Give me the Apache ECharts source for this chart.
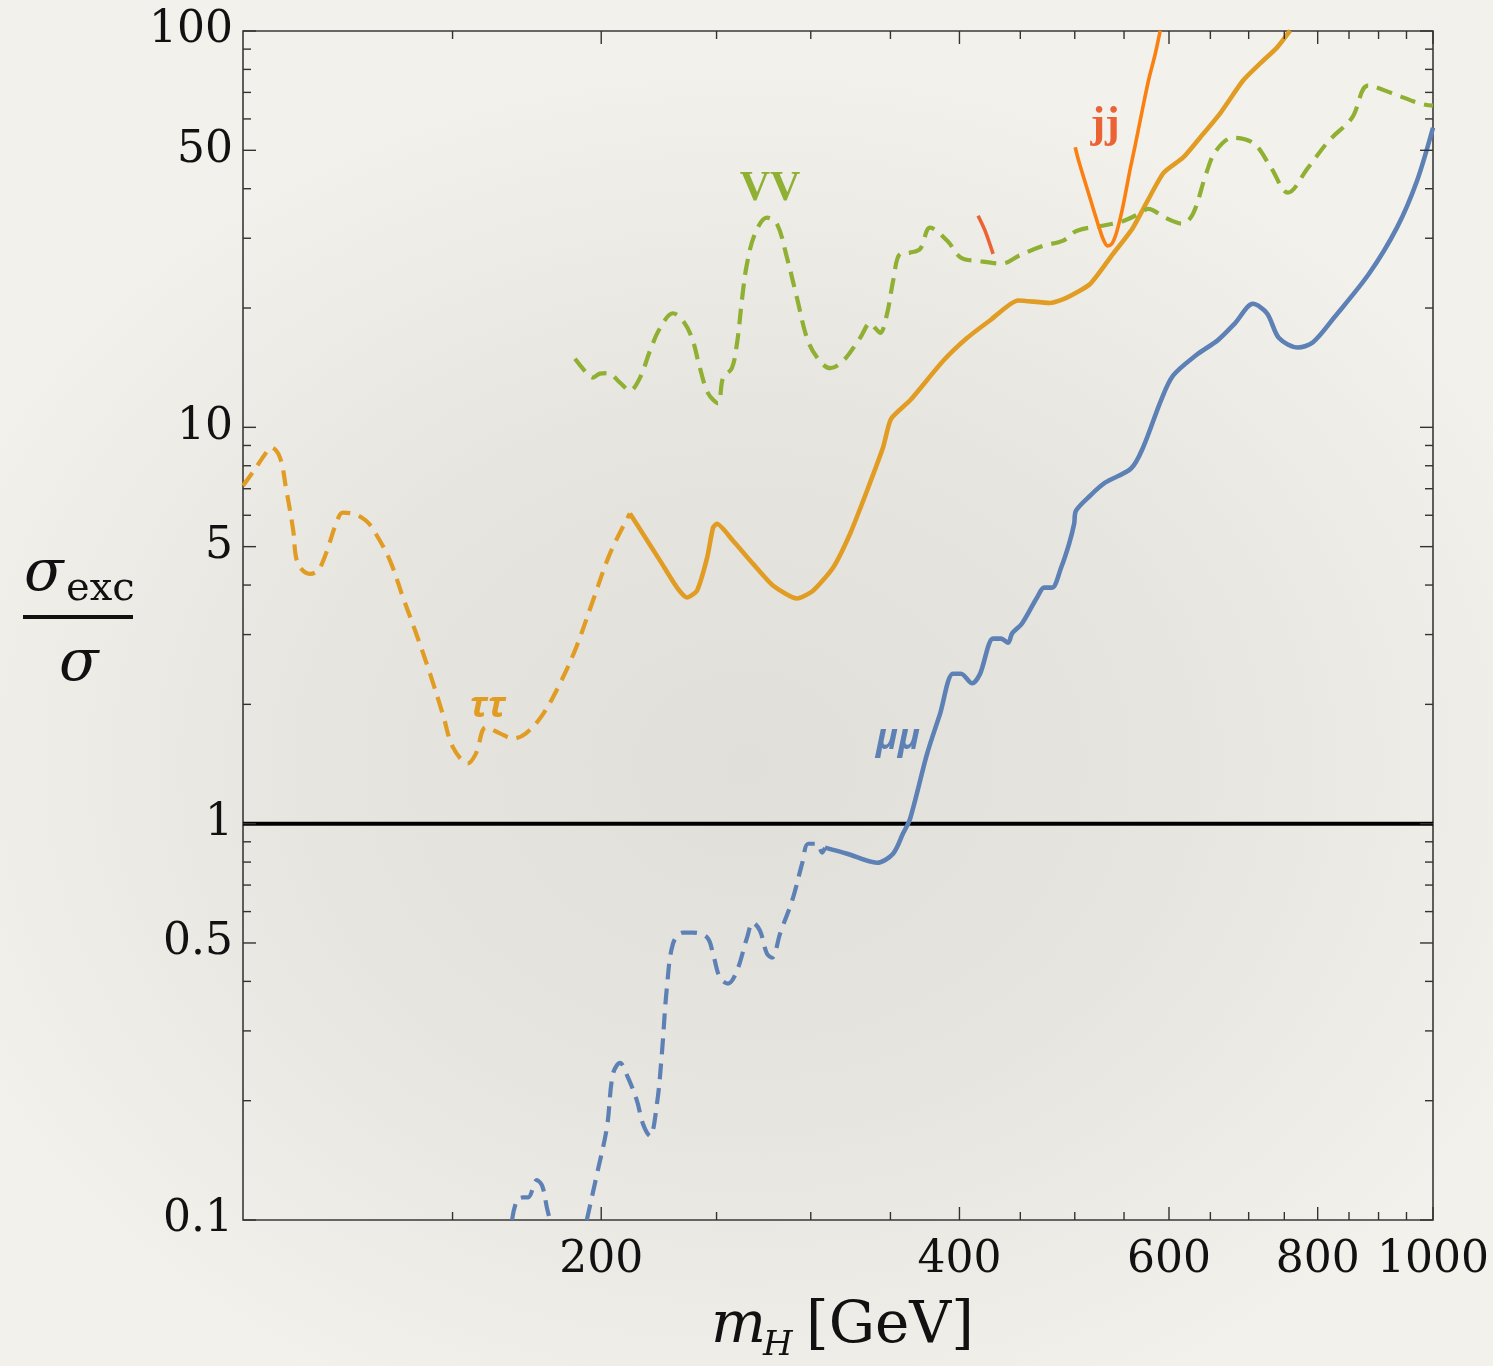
<!DOCTYPE html>
<html>
<head>
<meta charset="utf-8">
<script src="https://cdn.jsdelivr.net/npm/echarts@6/dist/echarts.min.js"></script>
<style>
  html, body {
    margin: 0; padding: 0; width: 1493px; height: 1366px; overflow: hidden;
    background: radial-gradient(ellipse 58% 52% at 50% 56%, #e1dfda 0%, #e7e5e0 50%, #f3f1ec 100%);
  }
  #chart { width: 1493px; height: 1366px; }
</style>
</head>
<body>
<div id="chart"></div>
<script>
// Exclusion ratio sigma_exc / sigma versus heavy Higgs mass m_H [GeV]

// tau tau channel: dashed at low mass, solid above ~210 GeV
const tauDashed = [[100,7.12],[102.5,7.9],[104.5,8.6],[105.6,8.9],[107.4,8.4],[108.7,7.0],[110.2,5.5],[110.8,4.7],[111.9,4.4],[113.8,4.27],[115.6,4.35],[117.4,4.8],[119.7,5.7],[121.3,6.09],[123.7,6.06],[126.9,5.81],[129.3,5.39],[132.9,4.61],[136.3,3.72],[139.8,3.02],[143.6,2.39],[147.2,1.89],[150.1,1.56],[154.5,1.42],[156.9,1.50],[160.0,1.75],[164.4,1.69],[168.6,1.64],[172.9,1.69],[178.7,1.89],[184.7,2.26],[190.5,2.78],[196.8,3.65],[203.4,4.80],[211.4,6.06]];
const tauSolid = [[211.4,6.06],[216.8,5.39],[224.1,4.61],[231.6,3.94],[236.1,3.72],[240.7,3.87],[245.5,4.69],[248.3,5.58],[250.2,5.71],[258.0,5.18],[268.2,4.53],[278.8,3.99],[292.1,3.70],[301.3,3.87],[313.3,4.43],[323.7,5.39],[334.5,6.92],[345.0,8.89],[350.4,10.5],[363.6,11.7],[387.5,14.7],[405.9,16.8],[424.3,18.6],[448.0,20.9],[476.6,20.6],[492.5,21.25],[515.0,23.0],[538.4,27.4],[559.6,31.9],[593.1,43.7],[616.5,47.9],[637.1,53.8],[662.2,61.9],[692.2,74.9],[715.4,82.7],[739.4,90.8],[758.4,100.2]];

// mu mu channel: dashed pieces (dips below 0.1 around 185 GeV), then solid
const muDashedA = [[168.3,0.1],[169.9,0.112],[171.9,0.114],[173.6,0.114],[176.6,0.126],[178.4,0.122],[180.1,0.107],[181.1,0.1]];
const muDashedB = [[194.5,0.1],[198.4,0.131],[202.2,0.171],[204.6,0.234],[207.4,0.249],[210.6,0.229],[214.3,0.2],[216.8,0.175],[219.8,0.163],[222.8,0.197],[224.9,0.263],[227.1,0.386],[229.8,0.498],[234.2,0.531],[238.8,0.531],[245.5,0.516],[248.3,0.47],[251.6,0.409],[255.6,0.395],[260.1,0.426],[265.2,0.516],[268.2,0.563],[271.9,0.537],[275.6,0.47],[278.3,0.459],[282.7,0.528],[289.9,0.651],[295.0,0.793],[298.5,0.89],[303.7,0.89],[306.7,0.845],[308.4,0.87]];
const muSolid = [[308.4,0.87],[321.8,0.84],[341.0,0.797],[351.8,0.84],[358.6,0.944],[363.6,1.03],[375.7,1.50],[385.2,1.89],[395.0,2.39],[401.2,2.39],[409.9,2.26],[416.3,2.39],[426.9,2.93],[433.5,2.93],[439.5,2.86],[442.9,3.02],[451.5,3.20],[464.8,3.72],[471.2,3.94],[478.5,3.94],[487.0,4.43],[494.6,5.09],[499.4,5.71],[501.2,6.16],[515.0,6.72],[530.2,7.25],[557.5,7.87],[570.6,8.89],[590.8,11.7],[604.7,13.5],[632.2,15.2],[659.6,16.6],[681.7,18.3],[705.8,20.5],[725.3,19.4],[742.3,16.8],[770.1,15.9],[792.8,16.4],[825.6,18.9],[883.5,24.4],[932.6,31.9],[969.6,41.9],[1000,57.0]];

// VV channel (dashed)
const vvDashed = [[190.1,14.9],[194.5,13.7],[196.8,13.35],[199.5,13.66],[202.6,13.7],[207.4,12.96],[211.4,12.38],[215.6,13.35],[219.8,15.6],[224.1,17.8],[229.8,19.4],[234.2,18.6],[238.4,16.8],[242.1,14.1],[245.9,12.2],[250.7,11.5],[253.2,13.35],[257.5,14.1],[260.1,16.3],[262.7,21.2],[265.2,25.9],[269.3,30.8],[275.6,33.8],[281.0,32.6],[286.5,26.8],[292.1,21.2],[297.8,16.8],[303.7,15.0],[311.5,14.1],[319.3,14.7],[330.0,16.8],[336.5,18.3],[339.8,17.8],[343.1,17.3],[347.8,19.4],[351.8,23.4],[356.6,27.4],[363.6,27.6],[370.7,28.2],[377.9,31.9],[390.5,29.6],[401.2,26.8],[414.7,26.3],[434.3,25.9],[448.8,27.1],[470.3,28.7],[488.9,29.6],[502.2,31.35],[529.1,32.3],[550.0,33.2],[568.4,34.8],[576.2,35.6],[595.6,33.8],[615.4,32.65],[628.6,34.6],[644.6,43.6],[657.2,49.9],[679.2,53.8],[707.2,52.0],[730.9,45.2],[755.3,39.1],[785.2,45.2],[817.8,52.9],[855.0,60.4],[881.9,72.8],[925.5,69.5],[975.2,65.6],[1000,64.8]];

// dijet channel and short companion segment
const jjCurve = [[500.4,50.9],[503.7,47.1],[508.7,42.7],[513.7,38.8],[518.8,35.2],[524.0,32.0],[528.1,29.9],[532.7,28.7],[537.0,29.0],[541.6,30.75],[546.3,33.9],[550.7,38.0],[556.2,44.4],[561.6,50.9],[568.9,61.7],[576.6,74.9],[584.2,87.5],[589.9,100.2]];
const jjShort = [[414.7,34.2],[420.3,31.35],[426.9,27.4]];

// reference level sigma_exc = sigma
const unityLine = [[100,1],[1000,1]];

// axis ticks
const xMajorTicks = [200, 400, 600, 800, 1000];
const xTickLabels = ['200', '400', '600', '800', '1000'];
const xMinorTicks = [150, 250, 300, 350, 450, 500, 550, 650, 700, 750, 850, 900, 950];
const yMajorTicks = [0.1, 0.5, 1, 5, 10, 50, 100];
const yTickLabels = ['0.1', '0.5', '1', '5', '10', '50', '100'];
const yMinorTicks = [0.2, 0.3, 0.4, 0.6, 0.7, 0.8, 0.9, 2, 3, 4, 6, 7, 8, 9, 20, 30, 40, 60, 70, 80, 90];

// curve labels
const curveLabelPos = [[277.3, 40.0], [530.2, 57.7], [160.6, 1.97], [355.2, 1.64]];
const curveLabelText = ['VV', 'jj', 'ττ', 'μμ'];

const X_MIN = 100, X_MAX = 1000, Y_MIN = 0.1, Y_MAX = 100;
const C_BLUE = '#5E81B5', C_ORANGE = '#E19C24', C_GREEN = '#8FB032', C_RED = '#EB6235', C_JJ = '#FA8012';
const TICK = '#333333';
const DASH = [16, 9];
const SERIF = '"DejaVu Serif", "Liberation Serif", serif';

const labelStyles = [
  { fill: C_GREEN, font: 'bold 42px "Liberation Serif", serif' },
  { fill: C_RED, font: 'bold 44px "Liberation Serif", serif' },
  { fill: C_ORANGE, font: 'italic bold 36px "Open Sans", "Noto Sans", sans-serif' },
  { fill: C_BLUE, font: 'italic bold 36px "Open Sans", "Noto Sans", sans-serif' }
];

const xTickData = xMajorTicks.map((v, i) => [v, Y_MIN, 1, i])
  .concat(xMinorTicks.map(v => [v, Y_MIN, 0, -1]));
const yTickData = yMajorTicks.map((v, i) => [X_MIN, v, 1, i])
  .concat(yMinorTicks.map(v => [X_MIN, v, 0, -1]));
const labelData = curveLabelPos.map((p, i) => [p[0], p[1], i]);

function renderXTick(params, api) {
  const m = api.value(0), major = api.value(2) === 1, idx = api.value(3);
  const b = api.coord([m, Y_MIN]), t = api.coord([m, Y_MAX]);
  const len = major ? 13 : 8;
  const kids = [
    { type: 'line', shape: { x1: b[0], y1: b[1], x2: b[0], y2: b[1] - len }, style: { stroke: TICK, lineWidth: 1.4 } },
    { type: 'line', shape: { x1: t[0], y1: t[1], x2: t[0], y2: t[1] + len }, style: { stroke: TICK, lineWidth: 1.4 } }
  ];
  if (major) {
    kids.push({ type: 'text', x: b[0], y: b[1] + 19,
      style: { text: xTickLabels[idx], font: '44px ' + SERIF, fill: '#111', align: 'center', verticalAlign: 'top' } });
  }
  return { type: 'group', children: kids };
}

function renderYTick(params, api) {
  const v = api.value(1), major = api.value(2) === 1, idx = api.value(3);
  const l = api.coord([X_MIN, v]), r = api.coord([X_MAX, v]);
  const len = major ? 13 : 8;
  const kids = [
    { type: 'line', shape: { x1: l[0], y1: l[1], x2: l[0] + len, y2: l[1] }, style: { stroke: TICK, lineWidth: 1.4 } },
    { type: 'line', shape: { x1: r[0], y1: r[1], x2: r[0] - len, y2: r[1] }, style: { stroke: TICK, lineWidth: 1.4 } }
  ];
  if (major) {
    kids.push({ type: 'text', x: l[0] - 10, y: l[1],
      style: { text: yTickLabels[idx], font: '44px ' + SERIF, fill: '#111', align: 'right', verticalAlign: 'middle' } });
  }
  return { type: 'group', children: kids };
}

function renderCurveLabel(params, api) {
  const i = api.value(2);
  const p = api.coord([api.value(0), api.value(1)]);
  return { type: 'text', x: p[0], y: p[1],
    style: Object.assign({ text: curveLabelText[i], align: 'center', verticalAlign: 'middle' }, labelStyles[i]) };
}

function lineSeries(data, color, width, dashed, smooth) {
  return {
    type: 'line', data: data, showSymbol: false, smooth: smooth, silent: true,
    lineStyle: { color: color, width: width, type: dashed ? DASH : 'solid', cap: 'butt', join: 'round' },
    z: 3
  };
}

const chart = echarts.init(document.getElementById('chart'), null, { renderer: 'canvas' });
chart.setOption({
  backgroundColor: 'transparent',
  animation: false,
  grid: { left: 243, right: 60, top: 31, bottom: 146, show: true, borderColor: '#3a3a3a', borderWidth: 1.6, backgroundColor: 'transparent' },
  xAxis: {
    type: 'log', logBase: 10, min: X_MIN, max: X_MAX,
    axisLine: { show: false }, axisTick: { show: false }, axisLabel: { show: false }, splitLine: { show: false }
  },
  yAxis: {
    type: 'log', logBase: 10, min: Y_MIN, max: Y_MAX,
    axisLine: { show: false }, axisTick: { show: false }, axisLabel: { show: false }, splitLine: { show: false }
  },
  series: [
    { type: 'line', data: unityLine, showSymbol: false, silent: true, lineStyle: { color: '#000', width: 4 }, z: 2 },
    lineSeries(tauDashed, C_ORANGE, 4.2, true, 0.35),
    lineSeries(tauSolid, C_ORANGE, 4.6, false, 0.2),
    lineSeries(muDashedA, C_BLUE, 4.2, true, 0.35),
    lineSeries(muDashedB, C_BLUE, 4.2, true, 0.35),
    lineSeries(muSolid, C_BLUE, 4.6, false, 0.3),
    lineSeries(vvDashed, C_GREEN, 4.2, true, 0.35),
    lineSeries(jjCurve, C_JJ, 3.6, false, 0.3),
    lineSeries(jjShort, C_RED, 3.6, false, 0.3),
    { type: 'custom', coordinateSystem: 'cartesian2d', data: xTickData, renderItem: renderXTick, silent: true, z: 4, encode: { x: 0, y: 1 } },
    { type: 'custom', coordinateSystem: 'cartesian2d', data: yTickData, renderItem: renderYTick, silent: true, z: 4, encode: { x: 0, y: 1 } },
    { type: 'custom', coordinateSystem: 'cartesian2d', data: labelData, renderItem: renderCurveLabel, silent: true, z: 5, encode: { x: 0, y: 1 } }
  ],
  graphic: [
    // x axis title: m_H [GeV]
    { type: 'text', left: 711, top: 1298, style: { text: 'm', font: 'italic 58px ' + SERIF, fill: '#111' } },
    { type: 'text', left: 763, top: 1329, style: { text: 'H', font: 'italic 34px ' + SERIF, fill: '#111' } },
    { type: 'text', left: 806, top: 1298, style: { text: '[GeV]', font: '58px ' + SERIF, fill: '#111' } },
    // y axis title: sigma_exc / sigma
    { type: 'text', left: 24, top: 546, style: { text: 'σ', font: 'italic 58px ' + SERIF, fill: '#111' } },
    { type: 'text', left: 66, top: 570, style: { text: 'exc', font: '40px ' + SERIF, fill: '#111' } },
    { type: 'rect', shape: { x: 23, y: 615, width: 110, height: 4 }, style: { fill: '#111' } },
    { type: 'text', left: 59, top: 636, style: { text: 'σ', font: 'italic 58px ' + SERIF, fill: '#111' } }
  ]
});
</script>
</body>
</html>
